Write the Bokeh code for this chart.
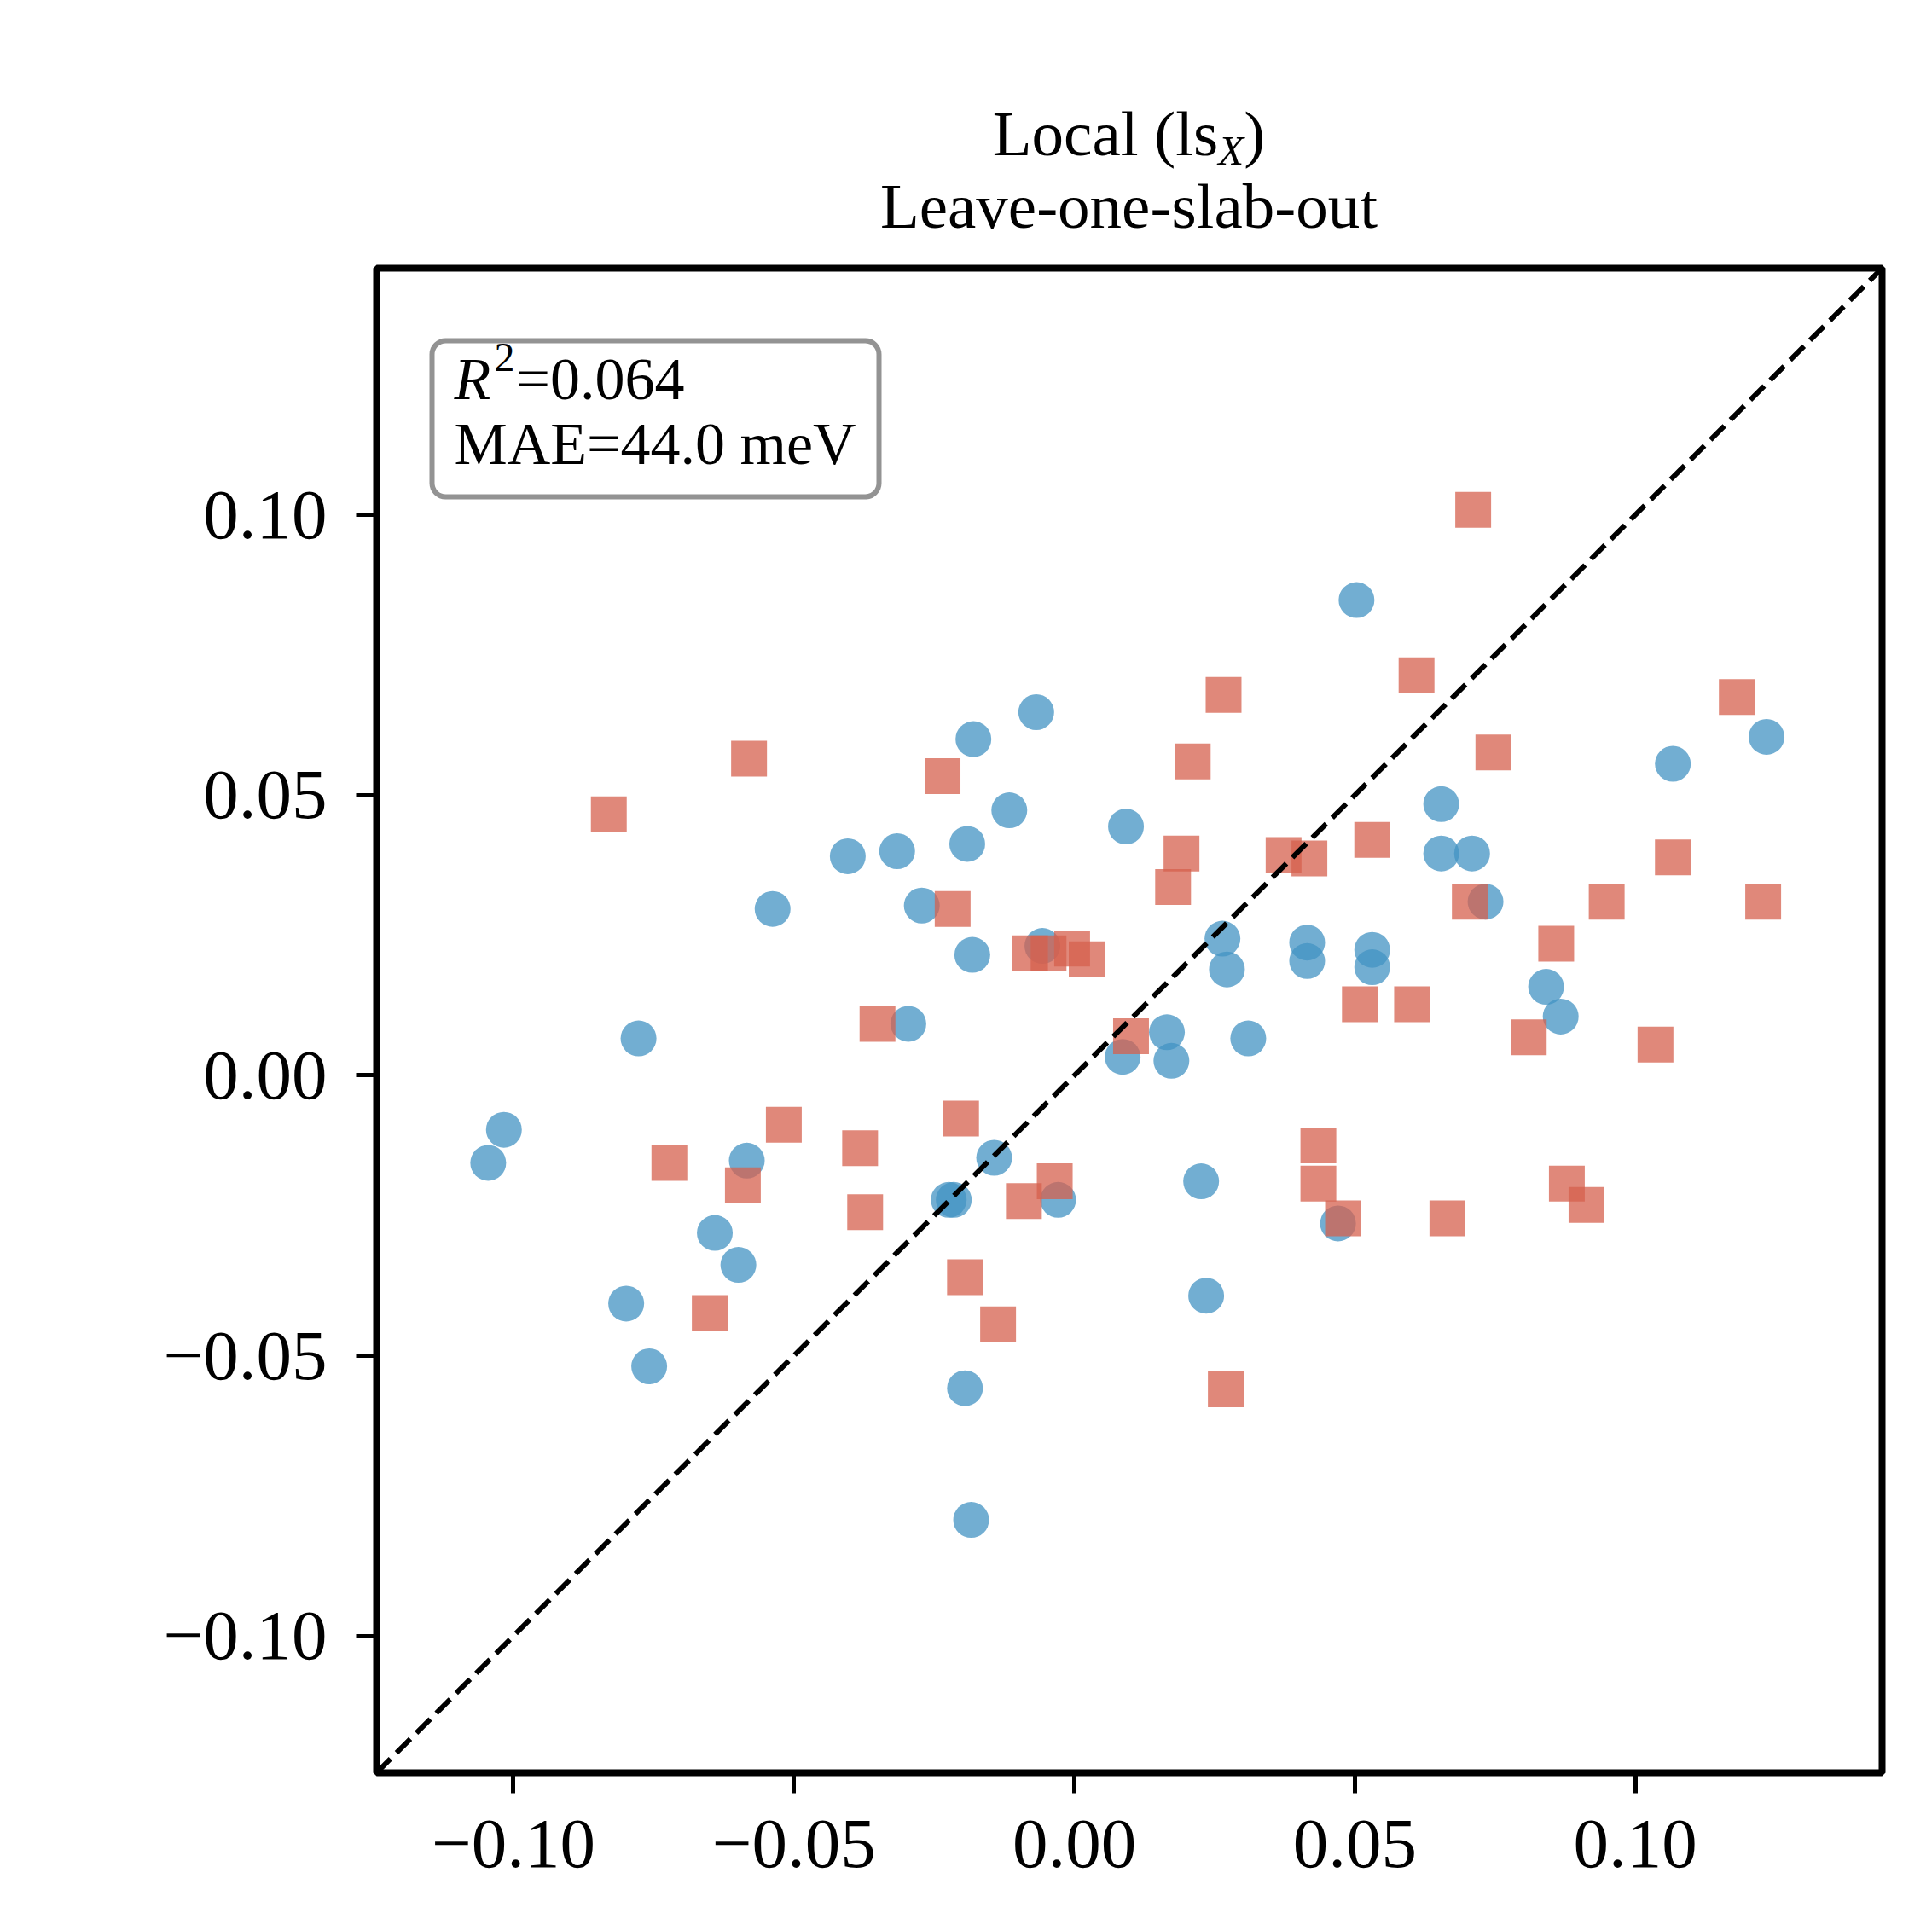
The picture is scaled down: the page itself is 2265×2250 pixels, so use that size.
from bokeh.plotting import figure
from bokeh.layouts import column
from bokeh.models import (Range1d, FixedTicker, CustomJSTickFormatter, Label,
                          BoxAnnotation, Div)
from bokeh.embed import file_html
from bokeh.resources import INLINE

# Cross-validated predictions (eV): reference value on x, model value on y
blue_x = [0.0503, -0.0068, -0.0180, -0.0116, 0.0092, -0.0404, -0.0316, -0.0191,
          -0.0538, -0.0272, -0.0182, -0.0057, 0.0264, 0.0272, 0.0415, 0.0415,
          0.0531, 0.0531, 0.0654, 0.0654, 0.0709, 0.0733, 0.1067, 0.1234,
          0.0841, 0.0867, -0.0296, -0.0777, 0.0165, 0.0086, 0.0173, 0.0310,
          -0.1017, -0.1045, -0.0584, -0.0143, -0.0224, -0.0215, -0.0029, 0.0226,
          -0.0641, -0.0599, 0.0470, -0.0799, 0.0235, -0.0758, -0.0195, -0.0184]
blue_y = [0.0848, 0.0648, 0.0600, 0.0473, 0.0444, 0.0391, 0.0400, 0.0413,
          0.0297, 0.0303, 0.0215, 0.0231, 0.0244, 0.0189, 0.0237, 0.0204,
          0.0224, 0.0193, 0.0484, 0.0396, 0.0396, 0.0310, 0.0556, 0.0604,
          0.0158, 0.0105, 0.0092, 0.0066, 0.0077, 0.0033, 0.0026, 0.0066,
          -0.0097, -0.0156, -0.0152, -0.0147, -0.0222, -0.0222, -0.0222, -0.0189,
          -0.0281, -0.0338, -0.0264, -0.0407, -0.0393, -0.0519, -0.0558, -0.0793]

red_x = [0.0711, 0.0610, 0.0266, 0.1181, -0.0580, 0.0211, 0.0747, -0.0235,
         -0.0830, 0.0531, 0.0191, 0.0373, 0.0419, 0.1067, 0.0176, -0.0217,
         0.0705, 0.0949, 0.1228, 0.0859, -0.0079, -0.0046, -0.0004, 0.0022,
         0.0509, 0.0602, -0.0351, 0.0101, 0.0810, 0.1036, -0.0518, -0.0202,
         -0.0382, 0.0435, -0.0722, -0.0591, 0.0435, -0.0035, -0.0090, 0.0878,
         0.0913, -0.0373, 0.0479, 0.0665, -0.0195, -0.0650, -0.0136, 0.0270]
red_y = [0.1009, 0.0714, 0.0679, 0.0675, 0.0565, 0.0560, 0.0576, 0.0534,
         0.0466, 0.0420, 0.0396, 0.0393, 0.0387, 0.0389, 0.0336, 0.0297,
         0.0310, 0.0310, 0.0310, 0.0235, 0.0218, 0.0218, 0.0226, 0.0207,
         0.0127, 0.0127, 0.0092, 0.0070, 0.0068, 0.0055, -0.0088, -0.0077,
         -0.0130, -0.0125, -0.0156, -0.0196, -0.0193, -0.0189, -0.0224, -0.0193,
         -0.0231, -0.0244, -0.0255, -0.0255, -0.0360, -0.0424, -0.0444, -0.0560]

tick_values = [-0.10, -0.05, 0.0, 0.05, 0.10]

title_main = "Local (ls"
title_sub = "X"
title_close = ")"
title_second = "Leave-one-slab-out"
r2_symbol = "R"
r2_power = "2"
r2_value = "=0.064"
mae_text = "MAE=44.0 meV"

# Canvas and frame geometry (pixels)
W, H = 2265, 2250
HEAD = 308                      # height of the title strip
LEFT, RIGHT, TOP, BOTTOM = 441, 59, 314, 172
FW = W - LEFT - RIGHT
FH = H - TOP - BOTTOM
LO, HI = -0.1244, 0.1440
FONT = "Liberation Serif"


def dx(px):
    """Canvas x pixel -> data x."""
    return LO + (px - LEFT) * (HI - LO) / FW


def dy(py):
    """Canvas y pixel (from top) -> data y."""
    return HI - (py - TOP) * (HI - LO) / FH


# Two-line title above the axes, centred on the frame
title_html = f"""
<div style="position:relative;width:{W}px;height:{HEAD}px;font-family:'{FONT}';color:black;">
  <div style="position:absolute;left:{LEFT}px;width:{FW}px;top:119px;text-align:center;font-size:75px;line-height:75px;white-space:nowrap;">{title_main}<span style="position:relative;top:11px;font-size:49px;line-height:0;font-style:italic;">{title_sub}</span>{title_close}</div>
  <div style="position:absolute;left:{LEFT}px;width:{FW}px;top:204px;text-align:center;font-size:75px;line-height:75px;white-space:nowrap;">{title_second}</div>
</div>
"""
head = Div(text=title_html, width=W, height=HEAD,
           styles={"margin": "0", "padding": "0"})

p = figure(width=W, height=H - HEAD, x_range=Range1d(LO, HI),
           y_range=Range1d(LO, HI), title=None,
           output_backend="svg", toolbar_location=None,
           min_border_left=LEFT, min_border_right=RIGHT,
           min_border_top=TOP - HEAD, min_border_bottom=BOTTOM)
p.grid.visible = False
p.background_fill_color = "white"
p.border_fill_color = "white"
p.outline_line_color = "black"
p.outline_line_width = 8
p.outline_line_alpha = 1.0

fmt = CustomJSTickFormatter(code="""
    return (tick < 0 ? "\\u2212" : "") + Math.abs(tick).toFixed(2);
""")
for ax in (p.xaxis[0], p.yaxis[0]):
    ax.ticker = FixedTicker(ticks=tick_values, minor_ticks=[])
    ax.formatter = fmt
    ax.axis_line_color = None
    ax.major_tick_line_color = "black"
    ax.major_tick_line_width = 5
    ax.major_tick_out = 24
    ax.major_tick_in = 0
    ax.minor_tick_out = 0
    ax.minor_tick_in = 0
    ax.major_label_text_font = FONT
    ax.major_label_text_font_size = "83px"
    ax.major_label_text_color = "black"
p.xaxis[0].major_label_standoff = 32
p.yaxis[0].major_label_standoff = 34

# Points
p.scatter(blue_x, blue_y, marker="circle", size=42, fill_color="#4393c3",
          fill_alpha=0.75, line_color=None)
p.scatter(red_x, red_y, marker="square", size=42, fill_color="#d6604d",
          fill_alpha=0.75, line_color=None)

# Parity line
p.line([LO, HI], [LO, HI], line_color="black", line_width=6, line_dash="23 10")

# Statistics box
common = dict(text_font=FONT, text_color="black", text_baseline="alphabetic")
p.add_layout(BoxAnnotation(left=dx(506), right=dx(1030), top=dy(399),
                           bottom=dy(582), fill_color="white", fill_alpha=1.0,
                           line_color="#939393", line_alpha=1.0, line_width=6,
                           border_radius=16))
p.add_layout(Label(x=dx(532), y=dy(444), text=r2_symbol, text_align="left",
                   text_font_size="70px", text_font_style="italic", **common))
p.add_layout(Label(x=dx(579), y=dy(418), text=r2_power, text_align="left",
                   text_font_size="48px", **common))
p.add_layout(Label(x=dx(605), y=dy(444), text=r2_value, text_align="left",
                   text_font_size="70px", **common))
p.add_layout(Label(x=dx(532), y=dy(520), text=mae_text, text_align="left",
                   text_font_size="70px", **common))

layout = column(head, p, spacing=0)
open("out.html", "w").write(file_html(layout, INLINE))
